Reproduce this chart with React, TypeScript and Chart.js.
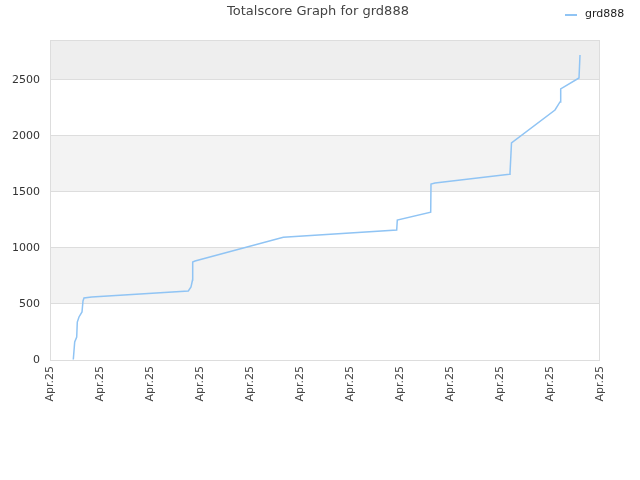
import { useEffect, useRef } from 'react';
import { Chart, registerables } from 'chart.js';

Chart.register(...registerables);

const playerName = 'grd888';
const chartTitle = 'Totalscore Graph for grd888';

// x positions in tick units (each tick = one "Apr.25" label)
const xTickLabels = ['Apr.25', 'Apr.25', 'Apr.25', 'Apr.25', 'Apr.25', 'Apr.25', 'Apr.25', 'Apr.25', 'Apr.25', 'Apr.25', 'Apr.25', 'Apr.25'];
const scoreX = [0.466, 0.494, 0.534, 0.546, 0.58, 0.64, 0.66, 0.68, 0.834, 2.766, 2.82, 2.85, 2.854, 2.9, 4.666, 6.934, 6.946, 7.614, 7.62, 7.7, 9.186, 9.2, 9.23, 10.1, 10.2, 10.214, 10.58, 10.6];
const scoreY = [5, 161, 205, 339, 384, 429, 527, 554, 563, 616, 652, 714, 875, 884, 1096, 1161, 1250, 1319, 1571, 1580, 1658, 1670, 1938, 2232, 2304, 2420, 2518, 2723];
const yTicks = [0, 500, 1000, 1500, 2000, 2500];
const yMax = 2857;

const bandsPlugin = {
  id: 'bands',
  beforeDraw(chart: any) {
    const { ctx, chartArea, scales } = chart;
    const y = scales.y;
    ctx.save();
    for (let v = 500; v < yMax; v += 1000) {
      const top = y.getPixelForValue(Math.min(v + 500, yMax));
      const bottom = y.getPixelForValue(v);
      ctx.fillStyle = v >= 2500 ? '#eeeeee' : '#f3f3f3';
      ctx.fillRect(chartArea.left, top, chartArea.right - chartArea.left, bottom - top);
    }
    ctx.restore();
  },
  afterDraw(chart: any) {
    const { ctx, chartArea } = chart;
    ctx.save();
    ctx.strokeStyle = '#dddddd';
    ctx.lineWidth = 1;
    ctx.strokeRect(chartArea.left + 0.5, chartArea.top + 0.5, chartArea.right - chartArea.left - 1, chartArea.bottom - chartArea.top);
    // title
    ctx.fillStyle = '#444444';
    ctx.font = '13px "DejaVu Sans", sans-serif';
    ctx.textAlign = 'center';
    ctx.textBaseline = 'middle';
    ctx.fillText(chartTitle, 318, 12);
    // legend
    ctx.strokeStyle = '#90c4f4';
    ctx.lineWidth = 2;
    ctx.beginPath();
    ctx.moveTo(565, 15);
    ctx.lineTo(577, 15);
    ctx.stroke();
    ctx.fillStyle = '#222222';
    ctx.font = '11px "DejaVu Sans", sans-serif';
    ctx.textAlign = 'left';
    ctx.fillText(playerName, 585, 14);
    ctx.restore();
  },
};

export default function App() {
  const chartRef = useRef<HTMLCanvasElement>(null);
  const chartInstance = useRef<Chart | null>(null);

  useEffect(() => {
    document.body.style.margin = '0';
    if (!chartRef.current) return;
    if (chartInstance.current) chartInstance.current.destroy();

    chartInstance.current = new Chart(chartRef.current, {
      type: 'line',
      data: {
        datasets: [
          {
            label: playerName,
            data: scoreX.map((x, i) => ({ x, y: scoreY[i] })),
            borderColor: '#90c4f4',
            borderWidth: 1.5,
            pointRadius: 0,
            fill: false,
            tension: 0,
          },
        ],
      },
      options: {
        animation: false,
        responsive: false,
        layout: { padding: { top: 40, right: 40, left: 0, bottom: 0 } },
        plugins: {
          legend: { display: false },
          title: { display: false },
          tooltip: { enabled: false },
        },
        scales: {
          x: {
            type: 'linear',
            min: 0,
            max: xTickLabels.length - 1,
            afterFit: (scale: any) => {
              scale.height = 120;
            },
            afterBuildTicks: (scale: any) => {
              scale.ticks = xTickLabels.map((_, i) => ({ value: i }));
            },
            ticks: {
              minRotation: 90,
              maxRotation: 90,
              autoSkip: false,
              padding: 6,
              color: '#444444',
              font: { family: '"DejaVu Sans", sans-serif', size: 11 },
              callback: (v: any) => xTickLabels[Math.round(Number(v))] ?? '',
            },
            grid: { display: false, drawTicks: false },
            border: { display: false },
          },
          y: {
            min: 0,
            max: yMax,
            afterFit: (scale: any) => {
              scale.width = 50;
            },
            afterBuildTicks: (scale: any) => {
              scale.ticks = yTicks.map((v) => ({ value: v }));
            },
            ticks: {
              padding: 10,
              color: '#333333',
              font: { family: '"DejaVu Sans", sans-serif', size: 11 },
              callback: (v: any) => String(v),
            },
            grid: { color: '#dddddd', drawTicks: false },
            border: { display: false },
          },
        },
      },
      plugins: [bandsPlugin],
    });

    return () => {
      if (chartInstance.current) {
        chartInstance.current.destroy();
        chartInstance.current = null;
      }
    };
  }, []);

  return (
    <div style={{ width: 640, height: 480, background: '#ffffff' }}>
      <canvas ref={chartRef} width={640} height={480} />
    </div>
  );
}
